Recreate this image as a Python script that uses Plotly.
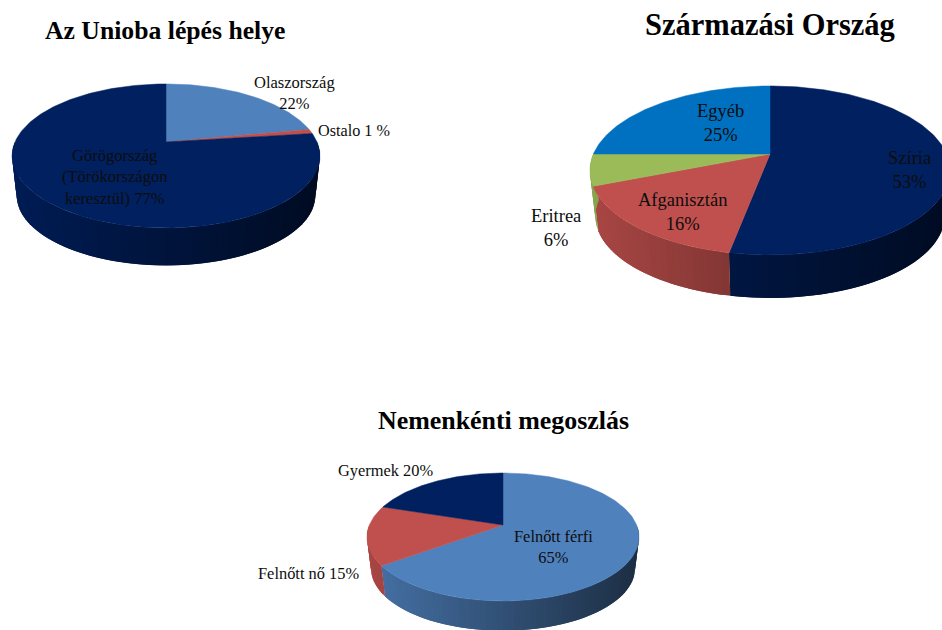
import numpy as np
import plotly.graph_objects as go

# --- data ---
route_names = ["Olaszország", "Ostalo", "Görögország"]
route_values = [22, 1, 77]
route_colors = ["#4F81BD", "#C0504D", "#002060"]

origin_names = ["Szíria", "Afganisztán", "Eritrea", "Egyéb"]
origin_values = [53, 16, 6, 25]
origin_colors = ["#002060", "#C0504D", "#9BBB59", "#0070C0"]

gender_names = ["Felnőtt férfi", "Felnőtt nő", "Gyermek"]
gender_values = [65, 15, 20]
gender_colors = ["#4F81BD", "#C0504D", "#002060"]

# --- layout of the three perspective pies (pixel-like axis units) ---
pies = [
    dict(values=route_values, colors=route_colors, cx=166, ay=142, A=151.0, a=69.3, k=-0.194, depth=40, shrink=0.97),
    dict(values=origin_values, colors=origin_colors, cx=770, ay=154, A=176.6, a=81.3, k=-0.195, depth=46, shrink=0.97),
    dict(values=gender_values, colors=gender_colors, cx=503, ay=525, A=133.6, a=61.75, k=-0.1875, depth=32, shrink=0.97),
]

titles = [
    ("Az Unioba lépés helye", 165, 30, 25.7),
    ("Származási Ország", 770, 25, 30.5),
    ("Nemenkénti megoszlás", 503, 420, 25.9),
]

labels = [
    ("Olaszország<br>22%", 294, 93, 16.5),
    ("Ostalo 1 %", 354, 131, 16.2),
    ("Görögország<br>(Törökországon<br>keresztül) 77%", 114, 177, 16.5),
    ("Egyéb<br>25%", 720, 123, 18.5),
    ("Szíria<br>53%", 909, 170, 18.5),
    ("Afganisztán<br>16%", 682, 212, 18.5),
    ("Eritrea<br>6%", 556, 228, 18.5),
    ("Gyermek 20%", 385, 470, 16.4),
    ("Felnőtt nő 15%", 308, 573, 16.4),
    ("Felnőtt férfi<br>65%", 553, 547, 16.4),
]

FONT = "Liberation Serif"


def project(p, t):
    """Map a clockwise angle from 12 o'clock on the pie to the tilted view."""
    X, Y = np.sin(t), -np.cos(t)
    w = 1 + p["k"] * Y
    return p["cx"] + p["A"] * X / w, p["ay"] + p["a"] * Y / w


def rim(p, t):
    x, y = project(p, t)
    s = p["shrink"]
    return p["cx"] + s * (x - p["cx"]), p["ay"] + p["depth"] + s * (y - p["ay"])


def scale(color, f):
    c = [int(color[i:i + 2], 16) for i in (1, 3, 5)]
    return "rgb(%d,%d,%d)" % tuple(round(v * f) for v in c)


fig = go.Figure()


def polygon(x, y, color, width=0.0):
    fig.add_trace(go.Scatter(x=x, y=y, mode="lines", fill="toself", fillcolor=color,
                             line=dict(color=color, width=width), hoverinfo="skip", showlegend=False))


for p in pies:
    edges = 2 * np.pi * np.cumsum([0] + p["values"]) / sum(p["values"])
    left = p["cx"] - p["A"] * 1.02
    width = 2 * p["A"] * 1.02
    # side wall, split in narrow strips for the shading; each strip runs under the next one
    for i, col in enumerate(p["colors"]):
        a0, a1 = edges[i], edges[i + 1]
        a0v, a1v = max(a0, np.pi / 2), min(a1, 3 * np.pi / 2)
        if a1v <= a0v:
            continue
        step = np.radians(2.0)
        n = max(1, int((a1v - a0v) / step))
        grid = np.linspace(a0v, a1v, n + 1)
        for g0, g1 in zip(grid[:-1], grid[1:]):
            tt = np.linspace(g0, min(g1 + step, a1v), 4)
            xt, yt = project(p, tt)
            xb, yb = rim(p, tt)
            xm = project(p, (g0 + g1) / 2)[0]
            f = 0.88 - 0.52 * (float(xm) - left) / width
            polygon(np.r_[xt, xb[::-1], xt[0]], np.r_[yt, yb[::-1], yt[0]], scale(col, f))
    # top face
    for i, col in enumerate(p["colors"]):
        tt = np.linspace(edges[i], edges[i + 1], max(2, int((edges[i + 1] - edges[i]) / np.radians(1)) + 1))
        x, y = project(p, tt)
        polygon(np.r_[p["cx"], x, p["cx"]], np.r_[p["ay"], y, p["ay"]], col, 0.5)

annotations = []
for text, x, y, size in titles:
    annotations.append(dict(x=x, y=y, text="<b>%s</b>" % text, showarrow=False, xanchor="center", yanchor="middle",
                            font=dict(family=FONT, size=size, color="#000000")))
for text, x, y, size in labels:
    annotations.append(dict(x=x, y=y, text=text, showarrow=False, xanchor="center", yanchor="middle",
                            font=dict(family=FONT, size=size, color="#0d0d0d")))

fig.update_layout(
    width=942, height=630, margin=dict(l=0, r=0, t=0, b=0),
    paper_bgcolor="white", plot_bgcolor="white", showlegend=False,
    xaxis=dict(range=[0, 942], visible=False, fixedrange=True),
    yaxis=dict(range=[630, 0], visible=False, fixedrange=True),
    annotations=annotations,
)
# drop the page's default body margin so the 942x630 figure fills the window without a scrollbar
fig.write_html("out.html", config={"displayModeBar": False},
               post_script="document.body.style.margin='0';document.documentElement.style.overflow='hidden';")
